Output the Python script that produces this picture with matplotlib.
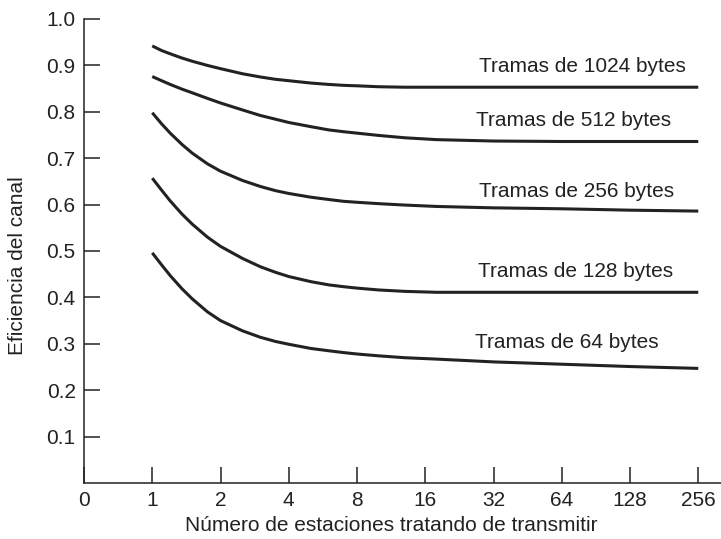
import numpy as np
import matplotlib
matplotlib.use("Agg")
import matplotlib.pyplot as plt

plt.rcParams["font.family"] = ["Liberation Sans", "DejaVu Sans"]

# number of stations (x) and channel efficiency
stations = [1, 1.1, 1.2, 1.35, 1.5, 1.75, 2, 2.5, 3, 3.5, 4, 5, 6, 7, 8, 10, 13, 18, 32, 64, 128, 256]
eff_1024 = [0.942, 0.932, 0.925, 0.916, 0.909, 0.900, 0.893, 0.882, 0.875, 0.870, 0.867,
            0.862, 0.859, 0.857, 0.856, 0.854, 0.853, 0.853, 0.853, 0.853, 0.853, 0.853]
eff_512 = [0.876, 0.867, 0.859, 0.849, 0.841, 0.829, 0.819, 0.804, 0.792, 0.784, 0.777,
           0.768, 0.761, 0.757, 0.754, 0.749, 0.744, 0.740, 0.737, 0.736, 0.736, 0.736]
eff_256 = [0.798, 0.774, 0.754, 0.730, 0.711, 0.688, 0.672, 0.652, 0.639, 0.630, 0.624,
           0.616, 0.611, 0.607, 0.605, 0.602, 0.599, 0.596, 0.593, 0.591, 0.588, 0.586]
eff_128 = [0.657, 0.631, 0.608, 0.580, 0.558, 0.530, 0.510, 0.484, 0.466, 0.454, 0.445,
           0.434, 0.427, 0.423, 0.420, 0.416, 0.413, 0.411, 0.411, 0.411, 0.411, 0.411]
eff_64 = [0.496, 0.470, 0.447, 0.419, 0.397, 0.369, 0.350, 0.328, 0.314, 0.305, 0.299,
          0.290, 0.285, 0.281, 0.278, 0.274, 0.270, 0.267, 0.261, 0.256, 0.251, 0.247]

series = [eff_1024, eff_512, eff_256, eff_128, eff_64]
labels = ["Tramas de 1024 bytes", "Tramas de 512 bytes", "Tramas de 256 bytes",
          "Tramas de 128 bytes", "Tramas de 64 bytes"]
label_pos = [(7.30, 0.897), (7.18, 0.781), (7.21, 0.628), (7.20, 0.455), (7.08, 0.302)]

xtick_labels = ["0", "1", "2", "4", "8", "16", "32", "64", "128", "256"]
yticks = [0.1, 0.2, 0.3, 0.4, 0.5, 0.6, 0.7, 0.8, 0.9, 1.0]

ink = "#222222"

fig = plt.figure(figsize=(7.21, 5.39), dpi=100)
ax = fig.add_axes([84 / 721, 56 / 539, 637 / 721, 464 / 539])

# x axis is evenly spaced in log2: 0 at position 0, n at log2(n) + 1
x = np.log2(stations) + 1
for vals in series:
    ax.plot(x, vals, color=ink, lw=2.2, solid_capstyle="butt", solid_joinstyle="round")

for txt, (px, py) in zip(labels, label_pos):
    ax.text(px, py, txt, ha="center", va="center", fontsize=15, color=ink)

ax.set_xlim(0, 9.333)
ax.set_ylim(0, 1.0)
ax.set_xticks(range(len(xtick_labels)))
ax.set_xticklabels(xtick_labels)
ax.set_yticks(yticks)
ax.set_yticklabels([f"{v:.1f}" for v in yticks])

ax.spines["top"].set_visible(False)
ax.spines["right"].set_visible(False)
for s in ["left", "bottom"]:
    ax.spines[s].set_color(ink)
    ax.spines[s].set_linewidth(1.1)

ax.tick_params(direction="in", length=11.5, width=1.1, color=ink,
               labelsize=15, labelcolor=ink, pad=6)

ax.set_xlabel("Número de estaciones tratando de transmitir", fontsize=15, color=ink)
ax.set_ylabel("Eficiencia del canal", fontsize=15, color=ink)
ax.xaxis.set_label_coords(0.483, -0.072)
ax.yaxis.set_label_coords(-0.09, 0.468)

fig.savefig("out.png", dpi=100)
